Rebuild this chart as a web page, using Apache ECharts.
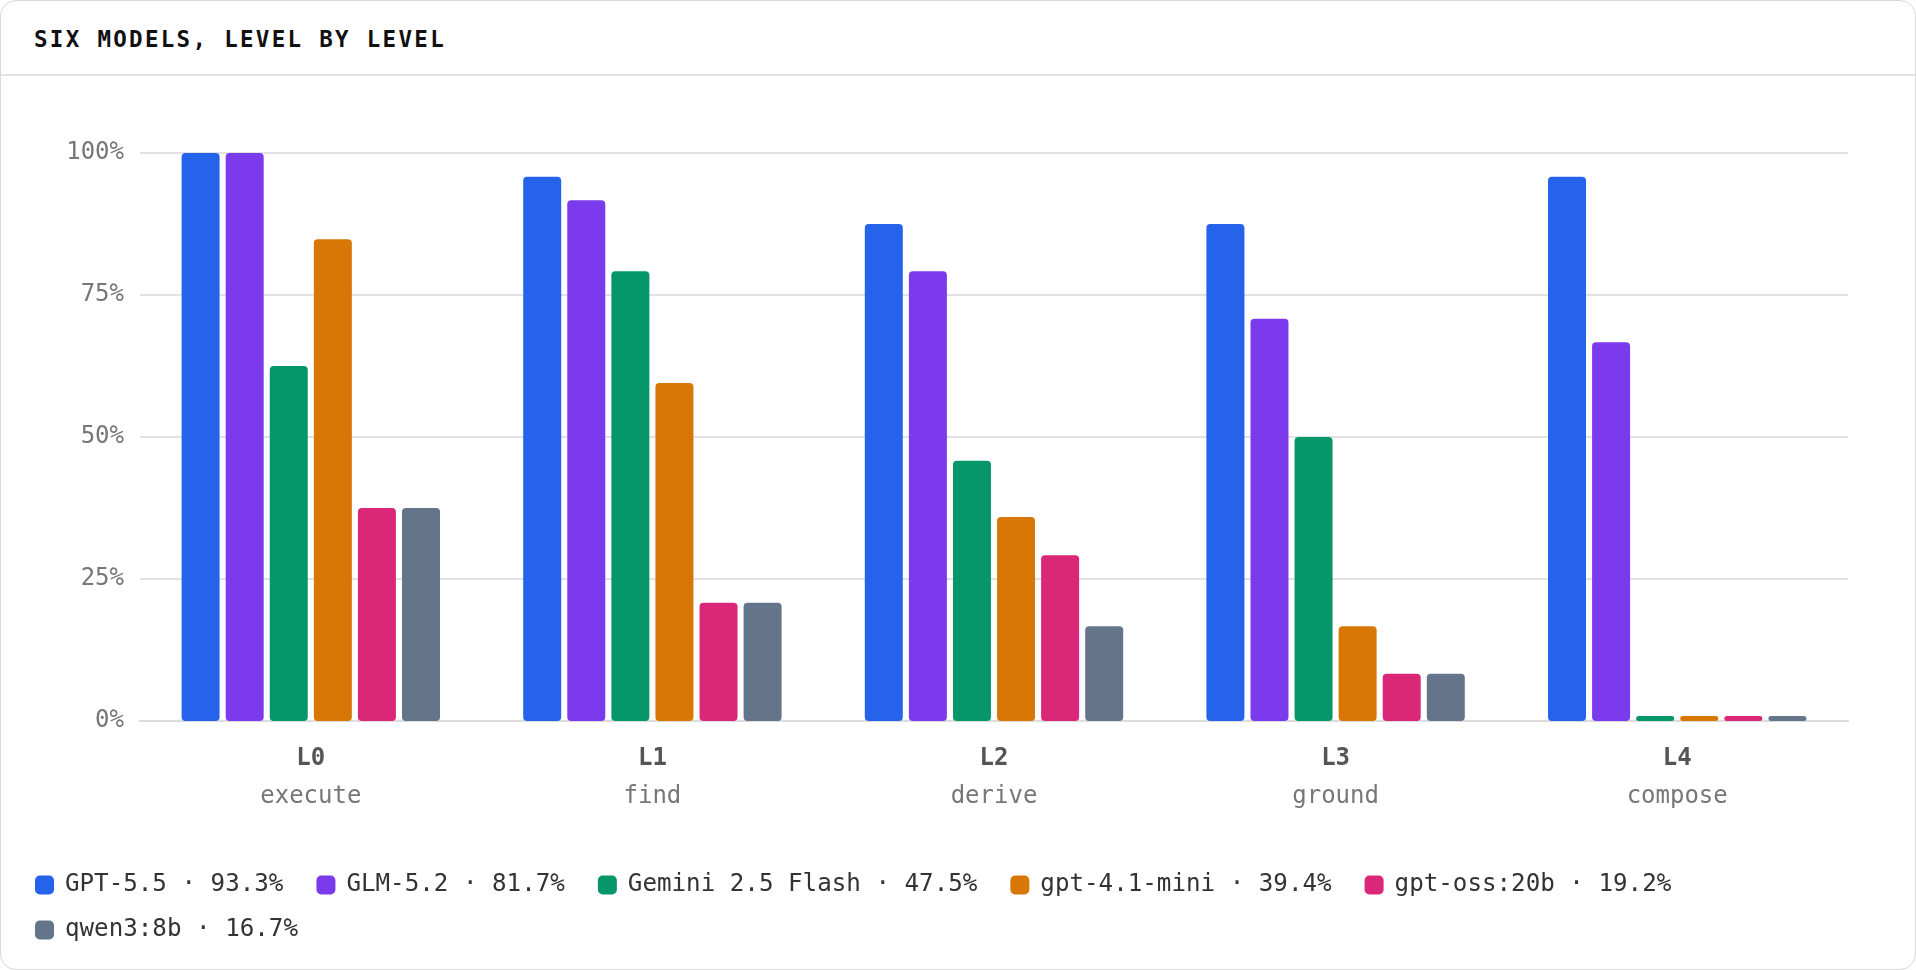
<!DOCTYPE html>
<html>
<head>
<meta charset="utf-8">
<script src="https://cdn.jsdelivr.net/npm/echarts@6/dist/echarts.min.js"></script>
<style>
  html, body { margin: 0; padding: 0; background: #fff; }
  .card {
    position: absolute; left: 0; top: 0; width: 1916px; height: 970px;
    box-sizing: border-box; border: 1.5px solid #d8d8d8; border-radius: 16px;
    overflow: hidden; background: #fff;
  }
  .card-head {
    position: absolute; left: 0; top: 0; right: 0; height: 73px;
    border-bottom: 2px solid #e2e2e2;
  }
  .card-head h1 {
    margin: 0; position: absolute; left: 33px; top: 24px;
    font: bold 22.5px "DejaVu Sans Mono", monospace; letter-spacing: 2.3px;
    color: #111; line-height: 28px;
  }
  #chart { position: absolute; left: 0; top: 0; width: 1916px; height: 970px; }
</style>
</head>
<body>
<div class="card">
  <div class="card-head"><h1>SIX MODELS, LEVEL BY LEVEL</h1></div>
  <div id="chart"></div>
</div>
<script>
// levels on the x axis
var levels = ['L0', 'L1', 'L2', 'L3', 'L4'];
var levelNames = ['execute', 'find', 'derive', 'ground', 'compose'];
var yTicks = [0, 25, 50, 75, 100];

// pass rate per level (%)
var models = ['GPT-5.5', 'GLM-5.2', 'Gemini 2.5 Flash', 'gpt-4.1-mini', 'gpt-oss:20b', 'qwen3:8b'];
var gpt55 = [100, 95.8, 87.5, 87.5, 95.8];
var glm52 = [100, 91.7, 79.2, 70.8, 66.7];
var gemini = [62.5, 79.2, 45.8, 50, 0];
var gpt41mini = [84.8, 59.5, 35.9, 16.7, 0];
var gptoss = [37.5, 20.8, 29.2, 8.3, 0];
var qwen3 = [37.5, 20.8, 16.7, 8.3, 0];
var colors = ['#2563eb', '#7c3aed', '#059669', '#d97706', '#db2777', '#64748b'];

var seriesData = [gpt55, glm52, gemini, gpt41mini, gptoss, qwen3];
var FONT = '"DejaVu Sans Mono", monospace';

function mean(arr) {
  var s = 0;
  arr.forEach(function (v) { s += v; });
  return s / arr.length;
}

var chart = echarts.init(document.getElementById('chart'));

var series = models.map(function (name, i) {
  return {
    name: name,
    type: 'bar',
    data: seriesData[i],
    barWidth: 38,
    barGap: '16%',
    barMinHeight: 5,
    itemStyle: { color: colors[i], borderRadius: 4 },
    emphasis: { disabled: true }
  };
});

chart.setOption({
  animation: false,
  color: colors,
  grid: { left: 139, right: 69, top: 152, bottom: 250 },
  legend: {
    left: 29,
    top: 867,
    width: 1840,
    itemWidth: 19,
    itemHeight: 19,
    itemGap: 21,
    icon: 'roundRect',
    data: models,
    formatter: function (name) {
      var i = models.indexOf(name);
      return '{t|' + name + ' · ' + mean(seriesData[i]).toFixed(1) + '%}';
    },
    textStyle: {
      rich: {
        t: {
          fontFamily: FONT, fontSize: 24.2, color: '#333',
          padding: [0, 12, 0, 6], lineHeight: 24
        }
      }
    }
  },
  xAxis: {
    type: 'category',
    data: levels,
    axisTick: { show: false },
    axisLine: { lineStyle: { color: '#dcdcdc', width: 2 } },
    axisLabel: {
      margin: 19,
      formatter: function (v, idx) {
        return '{a|' + v + '}\n{b|' + levelNames[idx] + '}';
      },
      rich: {
        a: { fontFamily: FONT, fontSize: 24, fontWeight: 'bold', color: '#555', lineHeight: 38 },
        b: { fontFamily: FONT, fontSize: 24, color: '#777', lineHeight: 38 }
      }
    }
  },
  yAxis: {
    type: 'value',
    min: yTicks[0],
    max: yTicks[yTicks.length - 1],
    interval: 25,
    axisLine: { show: false },
    axisTick: { show: false },
    splitLine: { lineStyle: { color: '#e2e2e2', width: 2 } },
    axisLabel: {
      margin: 16,
      formatter: '{value}%',
      fontFamily: FONT, fontSize: 24, color: '#777'
    }
  },
  series: series
});
</script>
</body>
</html>
